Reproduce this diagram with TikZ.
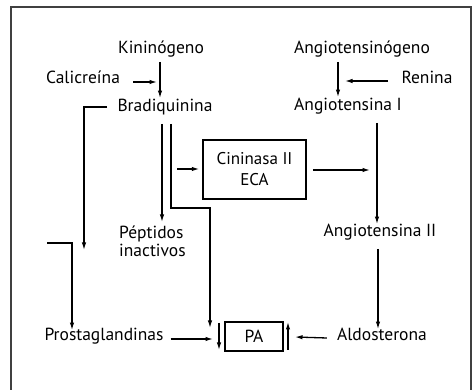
\documentclass[tikz,border=0pt]{standalone}
\usepackage{fontspec}
\setmainfont{PT Sans}
\usetikzlibrary{arrows.meta,calc}
\begin{document}
\begin{tikzpicture}[x=1pt,y=-1pt,
  lbl/.style={inner sep=0pt,font=\fontsize{17.5}{19}\selectfont,text height=0.72em,text depth=0.22em},
  arr/.style={line width=1.3pt,-{Latex[length=7.5pt,width=4.5pt]}},
  boxn/.style={draw,line width=1.5pt,inner sep=0pt}]
\useasboundingbox (0,0) rectangle (475,390);
\draw[line width=1.8pt,black!75] (11,392) -- (11,7) -- (471,7) -- (471,392);
% text nodes
\node[lbl] (kin) at (161,51) {Kininógeno};
\node[lbl] (cal) at (83,81) {Calicreína};
\node[lbl] (brad) at (165,109) {Bradiquinina};
\node[lbl] (ang) at (362,51) {Angiotensinógeno};
\node[lbl] (ren) at (427,81) {Renina};
\node[lbl] (angI) at (348,108) {Angiotensina I};
\node[lbl] (angII) at (380,234) {Angiotensina II};
\node[lbl] (ald) at (382,338) {Aldosterona};
\node[lbl] (pros) at (104,338) {Prostaglandinas};
\node[inner sep=0pt,align=left,anchor=north west,font=\fontsize{17.5}{17.5}\selectfont] (pep) at (119,226) {Péptidos\\inactivos};
\node[boxn,minimum width=103pt,minimum height=59pt,align=center,font=\fontsize{17}{21}\selectfont] (cin) at (254.5,169.5) {Cininasa II\\ECA};
\node[boxn,minimum width=58pt,minimum height=29pt,font=\fontsize{17.5}{18}\selectfont] (pa) at (254,336.5) {PA};
% coordinates
\coordinate (xk) at (160,0);
\coordinate (xa) at (338,0);
\coordinate (xp) at (162,0);
\coordinate (xq) at (171,0);
\coordinate (xr) at (377,0);
\coordinate (xs) at (378,0);
\coordinate (c1) at (133,82);
\coordinate (c2) at (157,82);
\coordinate (r1) at (388,81);
\coordinate (r2) at (345,81);
\coordinate (bl1) at (107,107);
\coordinate (bl2) at (84,107);
\coordinate (bl3) at (84,250);
\coordinate (pl1) at (47,243);
\coordinate (pl2) at (72,243);
\coordinate (pc1) at (171,208);
\coordinate (pc2) at (210,208);
\coordinate (pc3) at (210,328);
\coordinate (cx1) at (177,169);
\coordinate (cx3) at (370,170);
\coordinate (pr2) at (213,339);
\coordinate (dn1) at (219,323);
\coordinate (dn2) at (219,350);
\coordinate (up1) at (288,350);
\coordinate (up2) at (288,322);
\coordinate (al2) at (295,337);
% connectors
\draw[arr] ($(kin.south -| xk)+(0,6)$) -- ($(brad.north -| xk)+(0,-6)$);
\draw[arr] (c1) -- (c2);
\draw[arr] ($(ang.south -| xa)+(0,6)$) -- ($(angI.north -| xa)+(0,-6)$);
\draw[arr] (r1) -- (r2);
\draw[arr] (bl1) -- (bl2) -- (bl3);
\draw[arr] (pl1) -- (pl2) -- ($(pros.north -| pl2)+(0,-3)$);
\draw[arr] ($(brad.south -| xp)+(0,10)$) -- ($(pep.north -| xp)+(0,-4)$);
\draw[arr] ($(brad.south -| xq)+(0,10)$) -- (pc1) -- (pc2) -- (pc3);
\draw[arr] (cx1) -- ($(cin.west |- cx1)+(-3,0)$);
\draw[arr] ($(cin.east |- cx3)+(6,0)$) -- (cx3);
\draw[arr] ($(angI.south -| xr)+(0,10)$) -- ($(angII.north -| xr)+(0,-5)$);
\draw[arr] ($(angII.south -| xs)+(0,10)$) -- ($(ald.north -| xs)+(0,-4)$);
\draw[arr] ($(pros.east |- pr2)+(7,0)$) -- (pr2);
\draw[arr] (dn1) -- (dn2);
\draw[arr] (up1) -- (up2);
\draw[arr] ($(ald.west)+(-10,0)$) -- (al2);
\end{tikzpicture}
\end{document}
